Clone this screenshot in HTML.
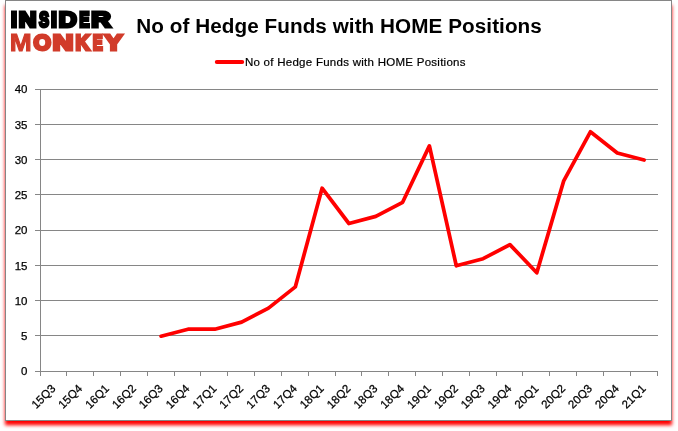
<!DOCTYPE html>
<html><head><meta charset="utf-8"><title>No of Hedge Funds with HOME Positions</title>
<style>
html,body{margin:0;padding:0;background:#fff;}
body{width:678px;height:431px;overflow:hidden;position:relative;font-family:"Liberation Sans",sans-serif;}
#box{position:absolute;left:5px;top:0;width:665px;height:419px;border:1px solid #868686;background:#fff;box-shadow:0 4.5px 3.5px 0 #ff0000;}
svg{position:absolute;left:0;top:0;}
text{font-family:"Liberation Sans",sans-serif;}
</style></head><body>
<div id="box"></div>
<svg width="678" height="431" viewBox="0 0 678 431">
<line x1="35" y1="371.5" x2="658.0" y2="371.5" stroke="#868686" stroke-width="1"/>
<line x1="35" y1="335.5" x2="658.0" y2="335.5" stroke="#868686" stroke-width="1"/>
<line x1="35" y1="300.5" x2="658.0" y2="300.5" stroke="#868686" stroke-width="1"/>
<line x1="35" y1="265.5" x2="658.0" y2="265.5" stroke="#868686" stroke-width="1"/>
<line x1="35" y1="230.5" x2="658.0" y2="230.5" stroke="#868686" stroke-width="1"/>
<line x1="35" y1="194.5" x2="658.0" y2="194.5" stroke="#868686" stroke-width="1"/>
<line x1="35" y1="159.5" x2="658.0" y2="159.5" stroke="#868686" stroke-width="1"/>
<line x1="35" y1="124.5" x2="658.0" y2="124.5" stroke="#868686" stroke-width="1"/>
<line x1="35" y1="89.5" x2="658.0" y2="89.5" stroke="#868686" stroke-width="1"/>
<line x1="40.5" y1="89.5" x2="40.5" y2="371.5" stroke="#868686" stroke-width="1"/>
<line x1="40.5" y1="371.5" x2="40.5" y2="376.0" stroke="#868686" stroke-width="1"/>
<line x1="66.5" y1="371.5" x2="66.5" y2="376.0" stroke="#868686" stroke-width="1"/>
<line x1="93.5" y1="371.5" x2="93.5" y2="376.0" stroke="#868686" stroke-width="1"/>
<line x1="120.5" y1="371.5" x2="120.5" y2="376.0" stroke="#868686" stroke-width="1"/>
<line x1="147.5" y1="371.5" x2="147.5" y2="376.0" stroke="#868686" stroke-width="1"/>
<line x1="174.5" y1="371.5" x2="174.5" y2="376.0" stroke="#868686" stroke-width="1"/>
<line x1="200.5" y1="371.5" x2="200.5" y2="376.0" stroke="#868686" stroke-width="1"/>
<line x1="227.5" y1="371.5" x2="227.5" y2="376.0" stroke="#868686" stroke-width="1"/>
<line x1="254.5" y1="371.5" x2="254.5" y2="376.0" stroke="#868686" stroke-width="1"/>
<line x1="281.5" y1="371.5" x2="281.5" y2="376.0" stroke="#868686" stroke-width="1"/>
<line x1="308.5" y1="371.5" x2="308.5" y2="376.0" stroke="#868686" stroke-width="1"/>
<line x1="335.5" y1="371.5" x2="335.5" y2="376.0" stroke="#868686" stroke-width="1"/>
<line x1="361.5" y1="371.5" x2="361.5" y2="376.0" stroke="#868686" stroke-width="1"/>
<line x1="388.5" y1="371.5" x2="388.5" y2="376.0" stroke="#868686" stroke-width="1"/>
<line x1="415.5" y1="371.5" x2="415.5" y2="376.0" stroke="#868686" stroke-width="1"/>
<line x1="442.5" y1="371.5" x2="442.5" y2="376.0" stroke="#868686" stroke-width="1"/>
<line x1="469.5" y1="371.5" x2="469.5" y2="376.0" stroke="#868686" stroke-width="1"/>
<line x1="496.5" y1="371.5" x2="496.5" y2="376.0" stroke="#868686" stroke-width="1"/>
<line x1="522.5" y1="371.5" x2="522.5" y2="376.0" stroke="#868686" stroke-width="1"/>
<line x1="549.5" y1="371.5" x2="549.5" y2="376.0" stroke="#868686" stroke-width="1"/>
<line x1="576.5" y1="371.5" x2="576.5" y2="376.0" stroke="#868686" stroke-width="1"/>
<line x1="603.5" y1="371.5" x2="603.5" y2="376.0" stroke="#868686" stroke-width="1"/>
<line x1="630.5" y1="371.5" x2="630.5" y2="376.0" stroke="#868686" stroke-width="1"/>
<line x1="657.5" y1="371.5" x2="657.5" y2="376.0" stroke="#868686" stroke-width="1"/>
<text x="27.5" y="375.4" font-size="11.5" text-anchor="end" fill="#000" stroke="#000" stroke-width="0.25">0</text>
<text x="27.5" y="340.1" font-size="11.5" text-anchor="end" fill="#000" stroke="#000" stroke-width="0.25">5</text>
<text x="27.5" y="304.9" font-size="11.5" text-anchor="end" fill="#000" stroke="#000" stroke-width="0.25">10</text>
<text x="27.5" y="269.6" font-size="11.5" text-anchor="end" fill="#000" stroke="#000" stroke-width="0.25">15</text>
<text x="27.5" y="234.4" font-size="11.5" text-anchor="end" fill="#000" stroke="#000" stroke-width="0.25">20</text>
<text x="27.5" y="199.2" font-size="11.5" text-anchor="end" fill="#000" stroke="#000" stroke-width="0.25">25</text>
<text x="27.5" y="163.9" font-size="11.5" text-anchor="end" fill="#000" stroke="#000" stroke-width="0.25">30</text>
<text x="27.5" y="128.7" font-size="11.5" text-anchor="end" fill="#000" stroke="#000" stroke-width="0.25">35</text>
<text x="27.5" y="93.4" font-size="11.5" text-anchor="end" fill="#000" stroke="#000" stroke-width="0.25">40</text>
<text transform="translate(50.5,383.6) rotate(-45)" x="0" y="8" font-size="11.5" text-anchor="end" fill="#000" stroke="#000" stroke-width="0.25">15Q3</text>
<text transform="translate(77.3,383.6) rotate(-45)" x="0" y="8" font-size="11.5" text-anchor="end" fill="#000" stroke="#000" stroke-width="0.25">15Q4</text>
<text transform="translate(104.2,383.6) rotate(-45)" x="0" y="8" font-size="11.5" text-anchor="end" fill="#000" stroke="#000" stroke-width="0.25">16Q1</text>
<text transform="translate(131.0,383.6) rotate(-45)" x="0" y="8" font-size="11.5" text-anchor="end" fill="#000" stroke="#000" stroke-width="0.25">16Q2</text>
<text transform="translate(157.8,383.6) rotate(-45)" x="0" y="8" font-size="11.5" text-anchor="end" fill="#000" stroke="#000" stroke-width="0.25">16Q3</text>
<text transform="translate(184.7,383.6) rotate(-45)" x="0" y="8" font-size="11.5" text-anchor="end" fill="#000" stroke="#000" stroke-width="0.25">16Q4</text>
<text transform="translate(211.5,383.6) rotate(-45)" x="0" y="8" font-size="11.5" text-anchor="end" fill="#000" stroke="#000" stroke-width="0.25">17Q1</text>
<text transform="translate(238.3,383.6) rotate(-45)" x="0" y="8" font-size="11.5" text-anchor="end" fill="#000" stroke="#000" stroke-width="0.25">17Q2</text>
<text transform="translate(265.2,383.6) rotate(-45)" x="0" y="8" font-size="11.5" text-anchor="end" fill="#000" stroke="#000" stroke-width="0.25">17Q3</text>
<text transform="translate(292.0,383.6) rotate(-45)" x="0" y="8" font-size="11.5" text-anchor="end" fill="#000" stroke="#000" stroke-width="0.25">17Q4</text>
<text transform="translate(318.8,383.6) rotate(-45)" x="0" y="8" font-size="11.5" text-anchor="end" fill="#000" stroke="#000" stroke-width="0.25">18Q1</text>
<text transform="translate(345.7,383.6) rotate(-45)" x="0" y="8" font-size="11.5" text-anchor="end" fill="#000" stroke="#000" stroke-width="0.25">18Q2</text>
<text transform="translate(372.5,383.6) rotate(-45)" x="0" y="8" font-size="11.5" text-anchor="end" fill="#000" stroke="#000" stroke-width="0.25">18Q3</text>
<text transform="translate(399.3,383.6) rotate(-45)" x="0" y="8" font-size="11.5" text-anchor="end" fill="#000" stroke="#000" stroke-width="0.25">18Q4</text>
<text transform="translate(426.1,383.6) rotate(-45)" x="0" y="8" font-size="11.5" text-anchor="end" fill="#000" stroke="#000" stroke-width="0.25">19Q1</text>
<text transform="translate(453.0,383.6) rotate(-45)" x="0" y="8" font-size="11.5" text-anchor="end" fill="#000" stroke="#000" stroke-width="0.25">19Q2</text>
<text transform="translate(479.8,383.6) rotate(-45)" x="0" y="8" font-size="11.5" text-anchor="end" fill="#000" stroke="#000" stroke-width="0.25">19Q3</text>
<text transform="translate(506.6,383.6) rotate(-45)" x="0" y="8" font-size="11.5" text-anchor="end" fill="#000" stroke="#000" stroke-width="0.25">19Q4</text>
<text transform="translate(533.5,383.6) rotate(-45)" x="0" y="8" font-size="11.5" text-anchor="end" fill="#000" stroke="#000" stroke-width="0.25">20Q1</text>
<text transform="translate(560.3,383.6) rotate(-45)" x="0" y="8" font-size="11.5" text-anchor="end" fill="#000" stroke="#000" stroke-width="0.25">20Q2</text>
<text transform="translate(587.1,383.6) rotate(-45)" x="0" y="8" font-size="11.5" text-anchor="end" fill="#000" stroke="#000" stroke-width="0.25">20Q3</text>
<text transform="translate(614.0,383.6) rotate(-45)" x="0" y="8" font-size="11.5" text-anchor="end" fill="#000" stroke="#000" stroke-width="0.25">20Q4</text>
<text transform="translate(640.8,383.6) rotate(-45)" x="0" y="8" font-size="11.5" text-anchor="end" fill="#000" stroke="#000" stroke-width="0.25">21Q1</text>
<polyline points="161.1,336.2 188.0,329.2 214.8,329.2 241.6,322.1 268.5,308.1 295.3,286.9 322.1,188.2 348.9,223.5 375.8,216.4 402.6,202.3 429.4,145.9 456.3,265.8 483.1,258.7 509.9,244.6 536.8,272.8 563.6,181.2 590.4,131.8 617.3,153.0 644.1,160.0" fill="none" stroke="#ff0000" stroke-width="3.75" stroke-linejoin="round" stroke-linecap="round"/>
<line x1="216.8" y1="62" x2="242.2" y2="62" stroke="#ff0000" stroke-width="4" stroke-linecap="round"/>
<text id="leg" x="244.9" y="66" font-size="11.5" fill="#000" stroke="#000" stroke-width="0.2" textLength="220.6" lengthAdjust="spacing">No of Hedge Funds with HOME Positions</text>
<text id="title" x="136.3" y="33.4" font-size="20.7" font-weight="bold" fill="#000" textLength="405.5" lengthAdjust="spacing">No of Hedge Funds with HOME Positions</text>
<g role="img" aria-label="INSIDER MONKEY"><title>INSIDER MONKEY</title>
<text id="lg1" y="26.7" font-size="22.5" font-weight="bold" fill="#000" stroke="#000" stroke-width="3.0" stroke-linejoin="miter"><tspan x="10.90" textLength="6.01" lengthAdjust="spacingAndGlyphs">I</tspan><tspan x="18.89" textLength="17.72" lengthAdjust="spacingAndGlyphs">N</tspan><tspan x="39.07" textLength="10.11" lengthAdjust="spacingAndGlyphs">S</tspan><tspan x="51.10" textLength="5.91" lengthAdjust="spacingAndGlyphs">I</tspan><tspan x="58.89" textLength="17.99" lengthAdjust="spacingAndGlyphs">D</tspan><tspan x="79.30" textLength="10.37" lengthAdjust="spacingAndGlyphs">E</tspan><tspan x="91.39" textLength="19.56" lengthAdjust="spacingAndGlyphs">R</tspan></text>
<text id="lg2" y="49.9" font-size="22.5" font-weight="bold" fill="#d13b2a" stroke="#d13b2a" stroke-width="3.0" stroke-linejoin="miter"><tspan x="9.69" y="50.9" font-size="24" stroke-width="1.0" textLength="21.92" lengthAdjust="spacingAndGlyphs">M</tspan><tspan x="33.48" y="49.9" textLength="17.47" lengthAdjust="spacingAndGlyphs">O</tspan><tspan x="52.89" textLength="20.53" lengthAdjust="spacingAndGlyphs">N</tspan><tspan x="75.60" textLength="14.18" lengthAdjust="spacingAndGlyphs">K</tspan><tspan x="92.70" textLength="9.99" lengthAdjust="spacingAndGlyphs">E</tspan><tspan x="104.81" textLength="17.56" lengthAdjust="spacingAndGlyphs">Y</tspan></text>
</g>
</svg>
</body></html>
